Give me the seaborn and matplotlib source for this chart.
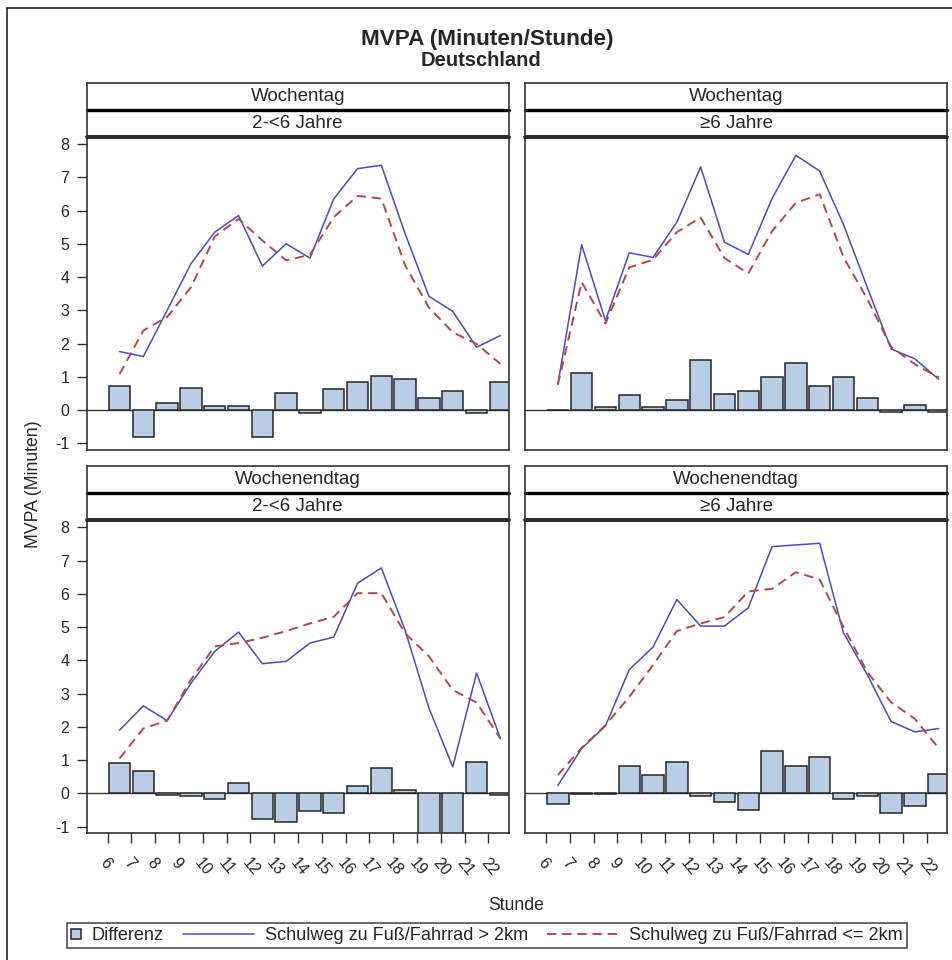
import numpy as np
import pandas as pd
import matplotlib
matplotlib.use('Agg')
import matplotlib.pyplot as plt
import matplotlib.transforms as mtransforms
from matplotlib.lines import Line2D
from matplotlib.patches import Rectangle
from matplotlib.legend_handler import HandlerBase
import seaborn as sns

# ---------------------------------------------------------------------------
# data

hours = list(range(6, 23))
hour_labels = [str(h) for h in hours]
day_types = ['Wochentag', 'Wochentag', 'Wochenendtag', 'Wochenendtag']
age_groups = ['2-<6 Jahre', '≥6 Jahre', '2-<6 Jahre', '≥6 Jahre']

# Wochentag, 2-<6 Jahre
wt_kids_far = [1.76, 1.61, 3.00, 4.40, 5.35, 5.85, 4.33, 5.00, 4.57, 6.35, 7.26, 7.36, 5.30, 3.42, 2.97, 1.89, 2.24]
wt_kids_near = [1.08, 2.39, 2.80, 3.69, 5.22, 5.75, 5.10, 4.50, 4.67, 5.80, 6.44, 6.36, 4.35, 3.08, 2.34, 1.99, 1.39]
wt_kids_diff = [0.71, -0.80, 0.21, 0.67, 0.12, 0.12, -0.80, 0.52, -0.10, 0.62, 0.84, 1.02, 0.93, 0.35, 0.57, -0.10, 0.84]

# Wochentag, >=6 Jahre
wt_old_far = [0.78, 4.97, 2.69, 4.73, 4.59, 5.65, 7.31, 5.05, 4.68, 6.36, 7.66, 7.19, 5.58, 3.69, 1.84, 1.54, 0.93]
wt_old_near = [0.76, 3.85, 2.60, 4.29, 4.52, 5.35, 5.79, 4.57, 4.11, 5.38, 6.23, 6.49, 4.60, 3.34, 1.90, 1.38, 0.98]
wt_old_diff = [0.00, 1.11, 0.08, 0.44, 0.08, 0.30, 1.52, 0.48, 0.57, 0.98, 1.43, 0.71, 0.98, 0.35, -0.06, 0.16, -0.06]

# Wochenendtag, 2-<6 Jahre
we_kids_far = [1.90, 2.63, 2.19, 3.31, 4.27, 4.85, 3.90, 3.97, 4.52, 4.70, 6.32, 6.78, 4.90, 2.56, 0.80, 3.62, 1.65]
we_kids_near = [1.05, 1.95, 2.19, 3.42, 4.42, 4.52, 4.68, 4.88, 5.11, 5.31, 6.02, 6.02, 4.81, 4.12, 3.11, 2.73, 1.65]
we_kids_diff = [0.90, 0.68, -0.04, -0.09, -0.18, 0.31, -0.77, -0.87, -0.54, -0.59, 0.22, 0.77, 0.09, -1.56, -2.31, 0.95, -0.04]

# Wochenendtag, >=6 Jahre
we_old_far = [0.24, 1.35, 2.03, 3.72, 4.40, 5.83, 5.03, 5.03, 5.58, 7.42, 7.47, 7.52, 4.83, 3.57, 2.16, 1.85, 1.95]
we_old_near = [0.55, 1.37, 2.05, 2.90, 3.86, 4.88, 5.11, 5.30, 6.07, 6.15, 6.65, 6.43, 5.00, 3.65, 2.74, 2.24, 1.36]
we_old_diff = [-0.31, -0.02, -0.02, 0.82, 0.54, 0.95, -0.08, -0.27, -0.49, 1.27, 0.82, 1.09, -0.17, -0.08, -0.58, -0.39, 0.59]

panels = [
    (wt_kids_far, wt_kids_near, wt_kids_diff),
    (wt_old_far, wt_old_near, wt_old_diff),
    (we_kids_far, we_kids_near, we_kids_diff),
    (we_old_far, we_old_near, we_old_diff),
]

# ---------------------------------------------------------------------------
# style

sns.set_style('white')
plt.rcParams['font.family'] = ['Liberation Sans', 'DejaVu Sans']
plt.rcParams['axes.unicode_minus'] = False

bar_color = '#b9cde5'
edge_color = '#262626'
blue = '#4b4bc3'
red = '#b5474b'
frame_color = '#333333'
dash = (0, (4.8, 3.0))

W, H = 952, 960
fig = plt.figure(figsize=(W / 100, H / 100), dpi=100)


def fx(px):
    return px / W


def fy(py):
    return 1 - py / H


# left / top of each panel in pixels
panel_pos = [(86.7, 136.7), (525, 136.7), (86.7, 520), (525, 520)]
pw, ph = 422, 313.3
strip_h = 26.8

for i, (left, top) in enumerate(panel_pos):
    far, near, diff = panels[i]
    df = pd.DataFrame({'Stunde': np.array(hours) + 0.5, 'far': far, 'near': near, 'diff': diff})

    ax = fig.add_axes([fx(left), fy(top + ph), pw / W, ph / H])
    ax.axhline(0, color=frame_color, lw=1.0, zorder=1)
    sns.barplot(data=df, x='Stunde', y='diff', native_scale=True, width=0.9, color=bar_color,
                saturation=1, edgecolor=edge_color, linewidth=1.1, errorbar=None, ax=ax, zorder=2)
    sns.lineplot(data=df, x='Stunde', y='far', color=blue, lw=1.1, ax=ax, zorder=3)
    sns.lineplot(data=df, x='Stunde', y='near', color=red, lw=1.4, linestyle=dash, ax=ax, zorder=3)

    ax.set_xlim(5.12, 22.85)
    ax.set_ylim(-1.2, 8.22)
    ax.set_xlabel('')
    ax.set_ylabel('')
    for sp in ax.spines.values():
        sp.set_color(frame_color)
        sp.set_linewidth(1.2)

    ax.set_yticks(range(-1, 9))
    ax.tick_params(axis='y', direction='out', length=7.5, width=1, color=frame_color,
                   pad=5, labelsize=11.5, left=(i % 2 == 0), labelleft=(i % 2 == 0))

    ax.set_xticks(hours)
    if i >= 2:
        ax.set_xticklabels(hour_labels, rotation=-50, ha='left', va='top')
        ax.tick_params(axis='x', direction='out', length=7.5, width=1, color=frame_color,
                       pad=8, labelsize=11.5, bottom=True)
        offset = mtransforms.ScaledTranslation(-0.11, 0, fig.dpi_scale_trans)
        for lab in ax.get_xticklabels():
            lab.set_transform(lab.get_transform() + offset)
    else:
        ax.tick_params(axis='x', bottom=False, labelbottom=False)

    # strip headers
    sax = fig.add_axes([fx(left), fy(top), pw / W, 2 * strip_h / H])
    sax.set_xlim(0, 1)
    sax.set_ylim(0, 2)
    sax.set_xticks([])
    sax.set_yticks([])
    for sp in sax.spines.values():
        sp.set_color(frame_color)
        sp.set_linewidth(1.2)
    sax.axhline(1, color='black', lw=2.4, clip_on=False)
    sax.axhline(0, color='black', lw=2.6, clip_on=False)
    sax.text(0.5, 1.5, day_types[i], ha='center', va='center', fontsize=13.5)
    sax.text(0.5, 0.5, age_groups[i], ha='center', va='center', fontsize=13.5)

# titles and axis labels
fig.text(fx(487), fy(39), 'MVPA (Minuten/Stunde)', ha='center', va='center',
         fontsize=16.2, fontweight='bold')
fig.text(fx(481), fy(61), 'Deutschland', ha='center', va='center', fontsize=14.5, fontweight='bold')
fig.text(fx(34), fy(484), 'MVPA (Minuten)', rotation=90, ha='center', va='center', fontsize=12.7)
fig.text(fx(516), fy(905), 'Stunde', ha='center', va='center', fontsize=12.7)

# outer frame (cropped on the right / bottom like the source image)
fig.add_artist(Line2D([fx(7), fx(7)], [0, fy(8.3)], transform=fig.transFigure, color='#222222', lw=1.2))
fig.add_artist(Line2D([fx(7), 1], [fy(8.3), fy(8.3)], transform=fig.transFigure, color='#222222', lw=1.2))


# ---------------------------------------------------------------------------
# legend: small square for the bars, long line samples for the two lines

class SquareHandler(HandlerBase):
    def create_artists(self, legend, orig_handle, xdescent, ydescent, width, height, fontsize, trans):
        s = 0.55 * fontsize
        r = Rectangle((-xdescent + (width - s) / 2, -ydescent + (height - s) / 2), s, s,
                      facecolor=orig_handle.get_facecolor(), edgecolor=orig_handle.get_edgecolor(),
                      lw=orig_handle.get_linewidth(), transform=trans)
        return [r]


class LongLineHandler(HandlerBase):
    def create_artists(self, legend, orig_handle, xdescent, ydescent, width, height, fontsize, trans):
        y = (height - ydescent) / 2
        x1 = width - xdescent
        line = Line2D([x1 - 3.9 * fontsize, x1], [y, y])
        line.update_from(orig_handle)
        line.set_transform(trans)
        return [line]


h_bar = Rectangle((0, 0), 1, 1, facecolor=bar_color, edgecolor=edge_color, lw=1.1)
h_far = Line2D([], [], color=blue, lw=1.1)
h_near = Line2D([], [], color=red, lw=1.4, linestyle=dash)

leg = fig.legend([h_bar, h_far, h_near],
                 ['Differenz', 'Schulweg zu Fuß/Fahrrad > 2km', 'Schulweg zu Fuß/Fahrrad <= 2km'],
                 handler_map={Rectangle: SquareHandler(), Line2D: LongLineHandler()},
                 loc='center', bbox_to_anchor=(fx(487), fy(935.5)), ncol=3, fontsize=13.1,
                 handlelength=0.55, handleheight=0.7, handletextpad=0.6, columnspacing=4.4,
                 borderpad=0.2, borderaxespad=0, frameon=True, fancybox=False)
leg.get_frame().set_edgecolor('#222222')
leg.get_frame().set_linewidth(1.2)

fig.savefig('out.png', dpi=100)
